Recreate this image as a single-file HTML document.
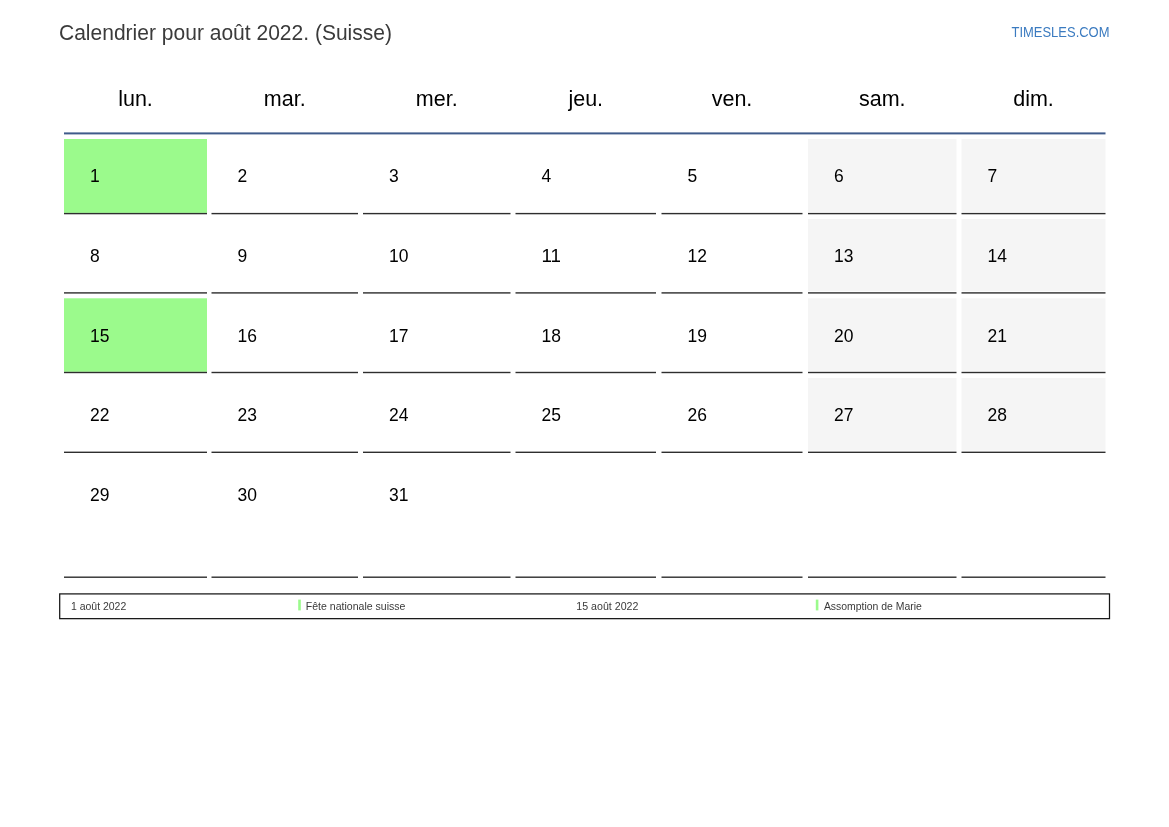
<!DOCTYPE html>
<html><head><meta charset="utf-8"><style>
html,body{margin:0;padding:0;background:#fff;}
body{width:1169px;height:827px;overflow:hidden;}
svg{display:block;will-change:transform;}
text{font-family:"Liberation Sans",sans-serif;}
.n{font-size:18.4px;fill:#000;}
.h{font-size:21.5px;fill:#000;}
.t{font-size:21.5px;fill:#3b3b3b;}
.ts{font-size:14.2px;fill:#3b7bc0;}
.l{font-size:10.4px;fill:#3a3a3a;}
</style></head><body>
<svg width="1169" height="827" viewBox="0 0 1169 827">
<rect x="64" y="132.4" width="1041.5" height="2.0" fill="#3f5b8b"/>
<rect x="64" y="139" width="143" height="73.9" fill="#9bfa8c"/>
<rect x="64" y="212.9" width="143" height="1.4" fill="#2e2e2e"/>
<rect x="211.5" y="212.9" width="146.5" height="1.4" fill="#2e2e2e"/>
<rect x="363" y="212.9" width="147.5" height="1.4" fill="#2e2e2e"/>
<rect x="515.5" y="212.9" width="140.5" height="1.4" fill="#2e2e2e"/>
<rect x="661.5" y="212.9" width="141.0" height="1.4" fill="#2e2e2e"/>
<rect x="808" y="139" width="148.5" height="72.9" fill="#f5f5f5"/>
<rect x="808" y="212.9" width="148.5" height="1.4" fill="#2e2e2e"/>
<rect x="961.5" y="139" width="144.0" height="72.9" fill="#f5f5f5"/>
<rect x="961.5" y="212.9" width="144.0" height="1.4" fill="#2e2e2e"/>
<rect x="64" y="292.2" width="143" height="1.4" fill="#2e2e2e"/>
<rect x="211.5" y="292.2" width="146.5" height="1.4" fill="#2e2e2e"/>
<rect x="363" y="292.2" width="147.5" height="1.4" fill="#2e2e2e"/>
<rect x="515.5" y="292.2" width="140.5" height="1.4" fill="#2e2e2e"/>
<rect x="661.5" y="292.2" width="141.0" height="1.4" fill="#2e2e2e"/>
<rect x="808" y="219" width="148.5" height="72.19999999999999" fill="#f5f5f5"/>
<rect x="808" y="292.2" width="148.5" height="1.4" fill="#2e2e2e"/>
<rect x="961.5" y="219" width="144.0" height="72.19999999999999" fill="#f5f5f5"/>
<rect x="961.5" y="292.2" width="144.0" height="1.4" fill="#2e2e2e"/>
<rect x="64" y="298.3" width="143" height="73.5" fill="#9bfa8c"/>
<rect x="64" y="371.8" width="143" height="1.4" fill="#2e2e2e"/>
<rect x="211.5" y="371.8" width="146.5" height="1.4" fill="#2e2e2e"/>
<rect x="363" y="371.8" width="147.5" height="1.4" fill="#2e2e2e"/>
<rect x="515.5" y="371.8" width="140.5" height="1.4" fill="#2e2e2e"/>
<rect x="661.5" y="371.8" width="141.0" height="1.4" fill="#2e2e2e"/>
<rect x="808" y="298.3" width="148.5" height="72.5" fill="#f5f5f5"/>
<rect x="808" y="371.8" width="148.5" height="1.4" fill="#2e2e2e"/>
<rect x="961.5" y="298.3" width="144.0" height="72.5" fill="#f5f5f5"/>
<rect x="961.5" y="371.8" width="144.0" height="1.4" fill="#2e2e2e"/>
<rect x="64" y="451.6" width="143" height="1.4" fill="#2e2e2e"/>
<rect x="211.5" y="451.6" width="146.5" height="1.4" fill="#2e2e2e"/>
<rect x="363" y="451.6" width="147.5" height="1.4" fill="#2e2e2e"/>
<rect x="515.5" y="451.6" width="140.5" height="1.4" fill="#2e2e2e"/>
<rect x="661.5" y="451.6" width="141.0" height="1.4" fill="#2e2e2e"/>
<rect x="808" y="378" width="148.5" height="72.60000000000002" fill="#f5f5f5"/>
<rect x="808" y="451.6" width="148.5" height="1.4" fill="#2e2e2e"/>
<rect x="961.5" y="378" width="144.0" height="72.60000000000002" fill="#f5f5f5"/>
<rect x="961.5" y="451.6" width="144.0" height="1.4" fill="#2e2e2e"/>
<rect x="64" y="576.5" width="143" height="1.4" fill="#2e2e2e"/>
<rect x="211.5" y="576.5" width="146.5" height="1.4" fill="#2e2e2e"/>
<rect x="363" y="576.5" width="147.5" height="1.4" fill="#2e2e2e"/>
<rect x="515.5" y="576.5" width="140.5" height="1.4" fill="#2e2e2e"/>
<rect x="661.5" y="576.5" width="141.0" height="1.4" fill="#2e2e2e"/>
<rect x="808" y="576.5" width="148.5" height="1.4" fill="#2e2e2e"/>
<rect x="961.5" y="576.5" width="144.0" height="1.4" fill="#2e2e2e"/>
<text x="90" y="181.8" class="n" textLength="9.72" lengthAdjust="spacingAndGlyphs">1</text>
<text x="237.5" y="181.8" class="n" textLength="9.72" lengthAdjust="spacingAndGlyphs">2</text>
<text x="389" y="181.8" class="n" textLength="9.72" lengthAdjust="spacingAndGlyphs">3</text>
<text x="541.5" y="181.8" class="n" textLength="9.72" lengthAdjust="spacingAndGlyphs">4</text>
<text x="687.5" y="181.8" class="n" textLength="9.72" lengthAdjust="spacingAndGlyphs">5</text>
<text x="834" y="181.8" class="n" textLength="9.72" lengthAdjust="spacingAndGlyphs">6</text>
<text x="987.5" y="181.8" class="n" textLength="9.72" lengthAdjust="spacingAndGlyphs">7</text>
<text x="90" y="261.8" class="n" textLength="9.72" lengthAdjust="spacingAndGlyphs">8</text>
<text x="237.5" y="261.8" class="n" textLength="9.72" lengthAdjust="spacingAndGlyphs">9</text>
<text x="389" y="261.8" class="n" textLength="19.44" lengthAdjust="spacingAndGlyphs">10</text>
<text x="541.5" y="261.8" class="n" textLength="19.44" lengthAdjust="spacingAndGlyphs">11</text>
<text x="687.5" y="261.8" class="n" textLength="19.44" lengthAdjust="spacingAndGlyphs">12</text>
<text x="834" y="261.8" class="n" textLength="19.44" lengthAdjust="spacingAndGlyphs">13</text>
<text x="987.5" y="261.8" class="n" textLength="19.44" lengthAdjust="spacingAndGlyphs">14</text>
<text x="90" y="341.8" class="n" textLength="19.44" lengthAdjust="spacingAndGlyphs">15</text>
<text x="237.5" y="341.8" class="n" textLength="19.44" lengthAdjust="spacingAndGlyphs">16</text>
<text x="389" y="341.8" class="n" textLength="19.44" lengthAdjust="spacingAndGlyphs">17</text>
<text x="541.5" y="341.8" class="n" textLength="19.44" lengthAdjust="spacingAndGlyphs">18</text>
<text x="687.5" y="341.8" class="n" textLength="19.44" lengthAdjust="spacingAndGlyphs">19</text>
<text x="834" y="341.8" class="n" textLength="19.44" lengthAdjust="spacingAndGlyphs">20</text>
<text x="987.5" y="341.8" class="n" textLength="19.44" lengthAdjust="spacingAndGlyphs">21</text>
<text x="90" y="421.0" class="n" textLength="19.44" lengthAdjust="spacingAndGlyphs">22</text>
<text x="237.5" y="421.0" class="n" textLength="19.44" lengthAdjust="spacingAndGlyphs">23</text>
<text x="389" y="421.0" class="n" textLength="19.44" lengthAdjust="spacingAndGlyphs">24</text>
<text x="541.5" y="421.0" class="n" textLength="19.44" lengthAdjust="spacingAndGlyphs">25</text>
<text x="687.5" y="421.0" class="n" textLength="19.44" lengthAdjust="spacingAndGlyphs">26</text>
<text x="834" y="421.0" class="n" textLength="19.44" lengthAdjust="spacingAndGlyphs">27</text>
<text x="987.5" y="421.0" class="n" textLength="19.44" lengthAdjust="spacingAndGlyphs">28</text>
<text x="90" y="500.9" class="n" textLength="19.44" lengthAdjust="spacingAndGlyphs">29</text>
<text x="237.5" y="500.9" class="n" textLength="19.44" lengthAdjust="spacingAndGlyphs">30</text>
<text x="389" y="500.9" class="n" textLength="19.44" lengthAdjust="spacingAndGlyphs">31</text>
<text x="135.5" y="106" class="h" text-anchor="middle">lun.</text>
<text x="284.75" y="106" class="h" text-anchor="middle">mar.</text>
<text x="436.75" y="106" class="h" text-anchor="middle">mer.</text>
<text x="585.75" y="106" class="h" text-anchor="middle">jeu.</text>
<text x="732.0" y="106" class="h" text-anchor="middle">ven.</text>
<text x="882.25" y="106" class="h" text-anchor="middle">sam.</text>
<text x="1033.5" y="106" class="h" text-anchor="middle">dim.</text>
<text x="59" y="39.7" class="t" textLength="333" lengthAdjust="spacingAndGlyphs">Calendrier pour août 2022. (Suisse)</text>
<text x="1011.5" y="36.9" class="ts" textLength="98" lengthAdjust="spacingAndGlyphs">TIMESLES.COM</text>
<rect x="59.7" y="593.9" width="1049.8" height="24.75" fill="none" stroke="#161616" stroke-width="1.25"/>
<rect x="298.2" y="599.6" width="2.6" height="10.8" fill="#9bfa8c"/>
<rect x="815.8" y="599.6" width="2.6" height="10.8" fill="#9bfa8c"/>
<text x="70.9" y="609.8" class="l" textLength="55.400000000000006" lengthAdjust="spacingAndGlyphs">1 août 2022</text>
<text x="305.79999999999995" y="609.8" class="l" textLength="99.60000000000002" lengthAdjust="spacingAndGlyphs">Fête nationale suisse</text>
<text x="576.3" y="609.8" class="l" textLength="62.10000000000002" lengthAdjust="spacingAndGlyphs">15 août 2022</text>
<text x="823.9" y="609.8" class="l" textLength="98.0" lengthAdjust="spacingAndGlyphs">Assomption de Marie</text>
</svg>
</body></html>
